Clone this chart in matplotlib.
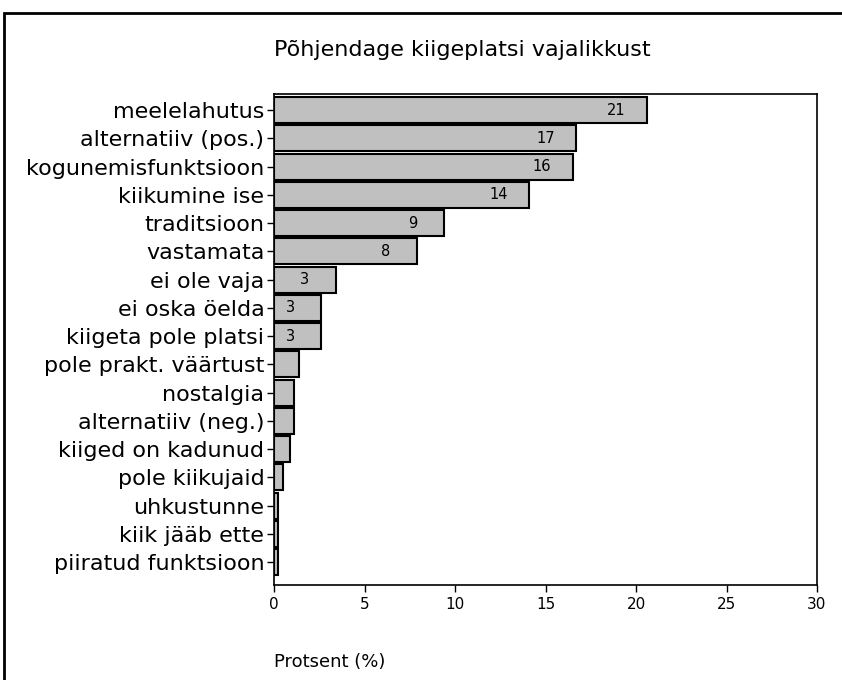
import matplotlib
matplotlib.use('Agg')
import matplotlib.pyplot as plt
from matplotlib.patches import Rectangle

# andmed
categories = ['meelelahutus', 'alternatiiv (pos.)', 'kogunemisfunktsioon', 'kiikumine ise',
              'traditsioon', 'vastamata', 'ei ole vaja', 'ei oska öelda', 'kiigeta pole platsi',
              'pole prakt. väärtust', 'nostalgia', 'alternatiiv (neg.)', 'kiiged on kadunud',
              'pole kiikujaid', 'uhkustunne', 'kiik jääb ette', 'piiratud funktsioon']
values = [20.6, 16.7, 16.5, 14.1, 9.4, 7.9, 3.4, 2.6, 2.6, 1.4, 1.1, 1.1, 0.9, 0.5, 0.2, 0.2, 0.2]
value_labels = ['21', '17', '16', '14', '9', '8', '3', '3', '3', '', '', '', '', '', '', '', '']
xticks = [0, 5, 10, 15, 20, 25, 30]

plt.rcParams['font.family'] = ['DejaVu Sans']

fig = plt.figure(figsize=(8.42, 6.8), dpi=100)
ax = fig.add_axes([274/842, 1-585/680, (817-274)/842, (585-94)/680])

ypos = list(range(len(categories)))
ax.barh(ypos, values, height=0.92, color='#c0c0c0', edgecolor='black', linewidth=1.5)

# väärtused ribade sisse
for y, v, lab in zip(ypos, values, value_labels):
    if lab:
        ax.annotate(lab, xy=(v, y), xytext=(-31, 0), textcoords='offset pixels',
                    ha='center', va='center', fontsize=10.5)

ax.set_ylim(16.81, -0.57)
ax.set_xlim(0, 30)
ax.set_yticks(ypos)
ax.set_yticklabels(categories, fontsize=16)
ax.set_xticks(xticks)
ax.set_xticklabels([str(t) for t in xticks], fontsize=11)
ax.tick_params(axis='both', direction='out', length=5, width=1)
ax.tick_params(axis='y', pad=2)
for s in ax.spines.values():
    s.set_linewidth(1.2)

fig.text(274/842, 1-50/680, 'Põhjendage kiigeplatsi vajalikkust', ha='left', va='center', fontsize=16)
fig.text(274/842, 1-662/680, 'Protsent (%)', ha='left', va='center', fontsize=13)

# raam ümber
fig.add_artist(Rectangle((4/842, -0.1), 1.2, 1.1 - 13/680, transform=fig.transFigure,
                         fill=False, edgecolor='black', linewidth=2))

fig.savefig('out.png', dpi=100)
